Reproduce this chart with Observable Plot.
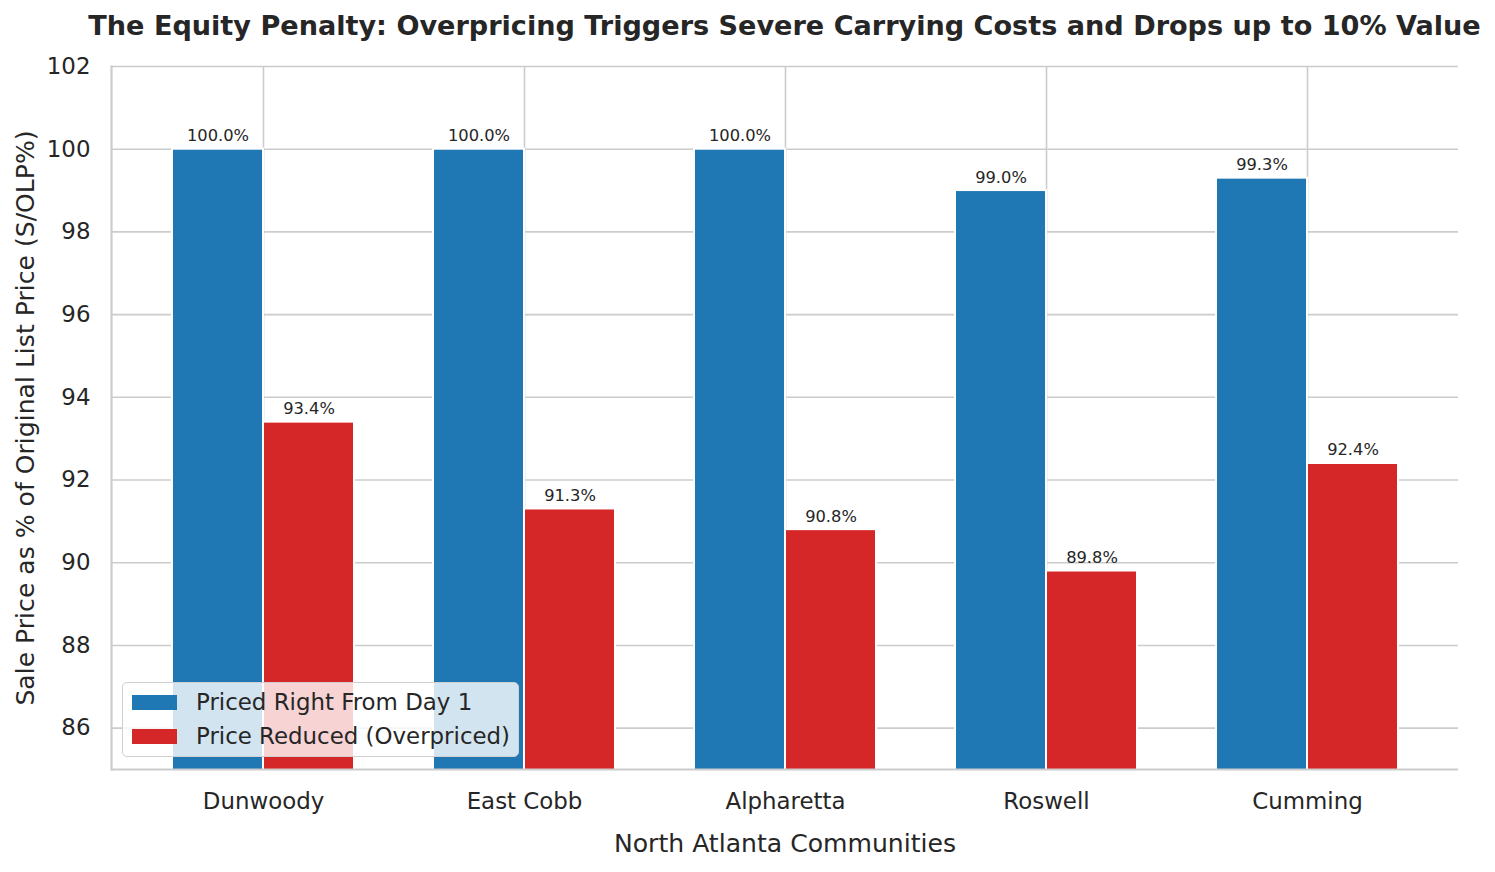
<!DOCTYPE html>
<html><head><meta charset="utf-8">
<script src="https://cdn.jsdelivr.net/npm/d3@7"></script>
<script src="https://cdn.jsdelivr.net/npm/@observablehq/plot@0.6"></script>
<style>
body{margin:0;background:#fff;font-family:"DejaVu Sans",sans-serif;color:#262626}
#wrap{position:relative;width:1495px;height:872px}
#title{position:absolute;left:74.5px;width:1420px;top:0;height:50px;line-height:52px;text-align:center;font-weight:bold;font-size:27.1px;color:#262626;white-space:nowrap}
#chart{position:absolute;left:0;top:50px}
#legend{position:absolute;left:122px;top:682px;width:397px;height:75px;background:rgba(255,255,255,0.8);border:1.5px solid #d0d0d0;border-radius:5px;box-sizing:border-box;font-size:22.9px;color:#262626}
.item{position:absolute;left:9px;height:30px;display:flex;align-items:center;white-space:nowrap}
.sw{width:45px;height:15px;margin-right:19px}
</style></head><body>
<div id="wrap">
<div id="title"></div>
<div id="chart"></div>
<div id="legend"></div>
</div>
<script>
const titleText = "The Equity Penalty: Overpricing Triggers Severe Carrying Costs and Drops up to 10% Value";
const communities = ["Dunwoody", "East Cobb", "Alpharetta", "Roswell", "Cumming"];
const pricedRight = [100.0, 100.0, 100.0, 99.0, 99.3];
const priceReduced = [93.4, 91.3, 90.8, 89.8, 92.4];
const seriesNames = ["Priced Right From Day 1", "Price Reduced (Overpriced)"];
const seriesColors = ["#1f77b4", "#d62728"];
const yTicks = [86, 88, 90, 92, 94, 96, 98, 100, 102];
const yDomain = [85, 102];
const xLabel = "North Atlanta Communities";
const yLabel = "Sale Price as % of Original List Price (S/OLP%)";

document.getElementById("title").textContent = titleText;

const blueRows = communities.map((c, i) => ({community: c, series: seriesNames[0], value: pricedRight[i]}));
const redRows = communities.map((c, i) => ({community: c, series: seriesNames[1], value: priceReduced[i]}));
const fmt = d => d.value.toFixed(1) + "%";

const chart = Plot.plot({
  width: 1495, height: 822,
  marginLeft: 111, marginRight: 37, marginTop: 16, marginBottom: 103,
  style: {fontFamily: "DejaVu Sans", color: "#262626", background: "#fff", overflow: "visible"},
  x: {domain: communities, paddingInner: 0.3027, paddingOuter: 0.2318, axis: null},
  y: {domain: yDomain, axis: null},
  color: {domain: seriesNames, range: seriesColors},
  marks: [
    Plot.gridY(yTicks, {stroke: "#cccccc", strokeOpacity: 1, strokeWidth: 1.6}),
    Plot.gridX(communities, {stroke: "#cccccc", strokeOpacity: 1, strokeWidth: 1.6}),
    Plot.barY(blueRows, {x: "community", y: "value", fill: "series", stroke: "white", strokeWidth: 2, insetRight: 91, clip: true}),
    Plot.barY(redRows, {x: "community", y: "value", fill: "series", stroke: "white", strokeWidth: 2, insetLeft: 91, clip: true}),
    Plot.text(blueRows, {x: "community", y: "value", text: fmt, dx: -45.5, dy: -8, lineAnchor: "bottom", fontSize: 16.3, fill: "#262626"}),
    Plot.text(redRows, {x: "community", y: "value", text: fmt, dx: 45.5, dy: -8, lineAnchor: "bottom", fontSize: 16.3, fill: "#262626"}),
    Plot.axisY(yTicks, {tickSize: 0, tickPadding: 21, fontSize: 22.9, label: null, fill: "#262626"}),
    Plot.axisX(communities, {tickSize: 0, tickPadding: 23, fontSize: 22.9, label: null, fill: "#262626"}),
    Plot.text([yLabel], {frameAnchor: "left", rotate: -90, dx: -86, textAnchor: "middle", lineAnchor: "middle", fontSize: 25.1, fill: "#262626"}),
    Plot.text([xLabel], {frameAnchor: "bottom", dy: 74, textAnchor: "middle", lineAnchor: "middle", fontSize: 25.1, fill: "#262626"}),
    Plot.ruleY([yDomain[0]], {stroke: "#cccccc", strokeWidth: 2.2}),
    Plot.frame({anchor: "left", stroke: "#cccccc", strokeWidth: 2.2})
  ]
});
document.getElementById("chart").appendChild(chart);

const legend = document.getElementById("legend");
seriesNames.forEach((name, i) => {
  const item = document.createElement("div");
  item.className = "item";
  item.style.top = (4 + i * 34) + "px";
  const sw = document.createElement("span");
  sw.className = "sw";
  sw.style.background = seriesColors[i];
  const label = document.createElement("span");
  label.textContent = name;
  item.appendChild(sw);
  item.appendChild(label);
  legend.appendChild(item);
});
</script>
</body></html>
